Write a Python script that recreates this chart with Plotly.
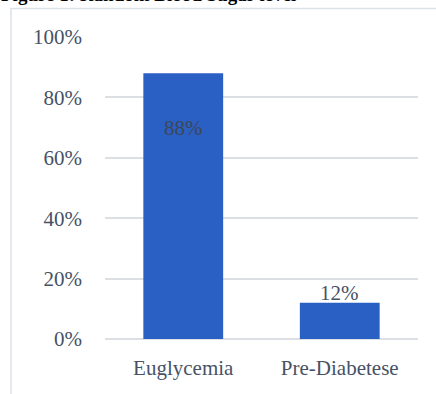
import plotly.graph_objects as go

categories = ["Euglycemia", "Pre-Diabetese"]
values = [88, 12]
value_labels = ["88%", "12%"]
tick_vals = [0, 20, 40, 60, 80, 100]
tick_text = ["0%", "20%", "40%", "60%", "80%", "100%"]
title_text = "Figure 1: Random Blood Sugar level"

W, H = 436, 394
L, R, T, B = 105, 18, 37, 55
pw, ph = W - L - R, H - T - B

def px_x(p):
    return (p - L) / pw

def px_y(p):
    return (H - B - p) / ph

FONT = "Liberation Serif, Times New Roman, serif"
TXT = "#465266"

fig = go.Figure()
fig.add_trace(go.Bar(
    x=categories, y=values,
    marker=dict(color="#2a5fc4", line=dict(width=0)),
    width=0.51,
    hoverinfo="skip",
))

annotations = []
for c, v, lab in zip(categories, values, value_labels):
    if v > 50:
        annotations.append(dict(x=c, y=v, xref="x", yref="y", text=lab, showarrow=False,
                                yanchor="middle", yshift=-55,
                                font=dict(family=FONT, size=21, color="#3d4757")))
    else:
        annotations.append(dict(x=c, y=v, xref="x", yref="y", text=lab, showarrow=False,
                                yanchor="bottom", yshift=-4,
                                font=dict(family=FONT, size=21, color=TXT)))

annotations.append(dict(x=px_x(-1), y=px_y(7), xref="paper", yref="paper", text="<b>" + title_text + "</b>",
                        showarrow=False, xanchor="left", yanchor="bottom",
                        font=dict(family=FONT, size=19, color="#000000")))

fig.update_layout(
    width=W, height=H,
    margin=dict(l=L, r=R, t=T, b=B, pad=0),
    paper_bgcolor="white", plot_bgcolor="white",
    showlegend=False,
    annotations=annotations,
    shapes=[dict(type="rect", xref="paper", yref="paper",
                 x0=px_x(11), x1=px_x(W + 20), y0=px_y(H + 20), y1=px_y(8.5),
                 line=dict(color="#dde1e8", width=1.5), fillcolor="rgba(0,0,0,0)", layer="below")],
    xaxis=dict(showgrid=False, showline=False, ticks="",
               tickfont=dict(family=FONT, size=21, color=TXT), ticklabelstandoff=14),
    yaxis=dict(range=[0, 100], tickvals=tick_vals, ticktext=tick_text,
               showgrid=True, gridcolor="#dcdfe3", gridwidth=1.5,
               zeroline=True, zerolinecolor="#dcdfe3", zerolinewidth=1.5,
               showline=False, ticks="", ticklabelstandoff=22,
               tickfont=dict(family=FONT, size=21, color=TXT)),
)

fig.write_html("out.html")
